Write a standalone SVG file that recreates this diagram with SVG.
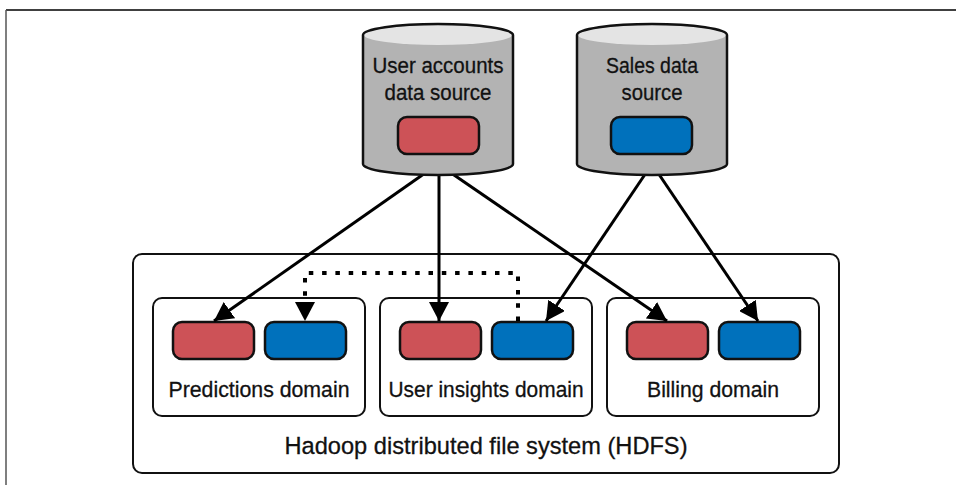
<svg xmlns="http://www.w3.org/2000/svg" width="956" height="485" viewBox="0 0 956 485">
  <defs>
    <style>
      .label { font-family: "Liberation Sans", Arial, sans-serif; font-size: 22.5px; fill: #111111; stroke: #111111; stroke-width: 0.3; text-anchor: middle; }
      .title { font-family: "Liberation Sans", Arial, sans-serif; font-size: 24.5px; fill: #111111; stroke: #111111; stroke-width: 0.3; text-anchor: middle; }
      .box { fill: #ffffff; stroke: #111111; stroke-width: 2; }
      .red { fill: #cd5257; stroke: #111111; stroke-width: 2.5; }
      .blue { fill: #0071bc; stroke: #111111; stroke-width: 2.5; }
      .cyl-body { fill: #b3b3b3; stroke: none; }
      .cyl-top { fill: #e4e4e4; stroke: none; }
      .cyl-line { fill: none; stroke: #111111; stroke-width: 2.5; }
      .flow { fill: none; stroke: #000000; stroke-width: 3; }
      .dotted { fill: none; stroke: #000000; stroke-width: 4; stroke-dasharray: 4.5 8.8; }
    </style>
    <marker id="arrow" markerUnits="userSpaceOnUse" markerWidth="20" markerHeight="20" viewBox="0 0 18 18" refX="17" refY="9" orient="auto">
      <path d="M0,0 L17,9 L0,18 Z" fill="#000000"/>
    </marker>
  </defs>

  <!-- page frame -->
  <line x1="6" y1="10" x2="956" y2="10" stroke="#000000" stroke-width="1.5"/>
  <line x1="6" y1="10" x2="6" y2="485" stroke="#555555" stroke-width="1.5"/>

  <!-- HDFS container -->
  <g id="hdfs">
    <rect class="box" x="133" y="254" width="706" height="219" rx="9"/>
    <text class="title" x="486" y="454" textLength="403" lengthAdjust="spacingAndGlyphs">Hadoop distributed file system (HDFS)</text>
  </g>

  <!-- domains -->
  <g id="predictions-domain">
    <rect class="box" x="153" y="298" width="212" height="118" rx="9"/>
    <rect class="red" x="173" y="322" width="81" height="37" rx="9"/>
    <rect class="blue" x="265" y="322" width="81" height="37" rx="9"/>
    <text class="label" x="259" y="397" textLength="181" lengthAdjust="spacingAndGlyphs">Predictions domain</text>
  </g>

  <g id="user-insights-domain">
    <rect class="box" x="380" y="298" width="212" height="118" rx="9"/>
    <rect class="red" x="400" y="322" width="81" height="37" rx="9"/>
    <rect class="blue" x="492" y="322" width="81" height="37" rx="9"/>
    <text class="label" x="486" y="397" textLength="195" lengthAdjust="spacingAndGlyphs">User insights domain</text>
  </g>

  <g id="billing-domain">
    <rect class="box" x="607" y="298" width="212" height="118" rx="9"/>
    <rect class="red" x="627" y="322" width="81" height="37" rx="9"/>
    <rect class="blue" x="719" y="322" width="81" height="37" rx="9"/>
    <text class="label" x="713" y="397" textLength="132" lengthAdjust="spacingAndGlyphs">Billing domain</text>
  </g>

  <!-- connectors: start at the cylinder bases, which are painted over them -->
  <g id="connectors">
    <line class="flow" x1="438" y1="164" x2="214" y2="321" marker-end="url(#arrow)"/>
    <line class="flow" x1="439" y1="164" x2="439" y2="321" marker-end="url(#arrow)"/>
    <line class="flow" x1="438" y1="164" x2="667" y2="321" marker-end="url(#arrow)"/>
    <line class="flow" x1="652" y1="164" x2="546" y2="321" marker-end="url(#arrow)"/>
    <line class="flow" x1="652" y1="164" x2="758" y2="321" marker-end="url(#arrow)"/>
    <path class="dotted" d="M518,321 V273 H305 V304"/>
    <line x1="305" y1="300" x2="305" y2="321" stroke="none" marker-end="url(#arrow)"/>
  </g>

  <!-- source: user accounts -->
  <g id="user-accounts-source">
    <path class="cyl-body" d="M363,35 A75,11 0 0 1 513,35 L513,164 A75,11 0 0 1 363,164 Z"/>
    <ellipse class="cyl-top" cx="438" cy="35" rx="74" ry="10"/>
    <path class="cyl-line" d="M363,35 A75,11 0 0 1 513,35 L513,164 A75,11 0 0 1 363,164 Z"/>
    <text class="label" x="438" y="73" textLength="131" lengthAdjust="spacingAndGlyphs">User accounts</text>
    <text class="label" x="438" y="100" textLength="107" lengthAdjust="spacingAndGlyphs">data source</text>
    <rect class="red" x="398" y="117" width="81" height="37" rx="9"/>
  </g>

  <!-- source: sales -->
  <g id="sales-source">
    <path class="cyl-body" d="M577,35 A75,11 0 0 1 727,35 L727,164 A75,11 0 0 1 577,164 Z"/>
    <ellipse class="cyl-top" cx="652" cy="35" rx="74" ry="10"/>
    <path class="cyl-line" d="M577,35 A75,11 0 0 1 727,35 L727,164 A75,11 0 0 1 577,164 Z"/>
    <text class="label" x="652" y="73" textLength="92" lengthAdjust="spacingAndGlyphs">Sales data</text>
    <text class="label" x="652" y="100" textLength="61" lengthAdjust="spacingAndGlyphs">source</text>
    <rect class="blue" x="611" y="117" width="81" height="37" rx="9"/>
  </g>
</svg>
